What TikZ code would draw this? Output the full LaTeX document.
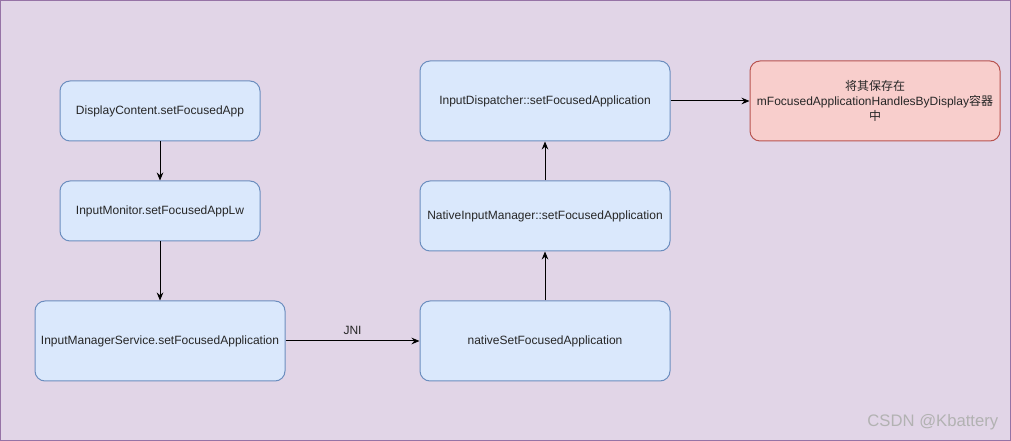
\documentclass[tikz,border=0pt]{standalone}
\usepackage{fontspec}
\setmainfont{Liberation Sans}
\newfontfamily\cjk{Noto Sans CJK SC}
\usetikzlibrary{arrows.meta}
\definecolor{bgfill}{HTML}{E1D5E7}
\definecolor{bgline}{HTML}{9673A6}
\definecolor{bluefill}{HTML}{DAE8FC}
\definecolor{blueline}{HTML}{6C8EBF}
\definecolor{redfill}{HTML}{F8CECC}
\definecolor{redline}{HTML}{B85450}
\begin{document}
\begin{tikzpicture}[x=0.75pt,y=-0.75pt,
  box/.style={draw=blueline,fill=bluefill,rounded corners=7.5pt,line width=0.75pt,
    font=\fontsize{9}{11}\selectfont,text=black!85,align=center,inner sep=0pt},
  redbox/.style={box,draw=redline,fill=redfill},
  conn/.style={-{Stealth[length=6pt,width=5pt,inset=2pt]},line width=0.75pt}]
\path[use as bounding box,fill=bgfill,draw=bgline,line width=0.75pt] (0.5,0.5) rectangle (1010.5,440.5);
\node[box,minimum width=150pt,minimum height=45pt] (dc) at (160,111) {DisplayContent.setFocusedApp};
\node[box,minimum width=150pt,minimum height=45pt] (im) at (160,211) {InputMonitor.setFocusedAppLw};
\node[box,minimum width=187.5pt,minimum height=60pt] (ims) at (160,341) {InputManagerService.setFocusedApplication};
\node[box,minimum width=187.5pt,minimum height=60pt] (nsf) at (545,341) {nativeSetFocusedApplication};
\node[box,minimum width=187.5pt,minimum height=52.5pt] (nim) at (545,216) {NativeInputManager::setFocusedApplication};
\node[box,minimum width=187.5pt,minimum height=60pt] (idp) at (545,101) {InputDispatcher::setFocusedApplication};
\node[redbox,minimum width=187.5pt,minimum height=60pt] (save) at (875,101) {{\cjk 将其保存在}\\mFocusedApplicationHandlesByDisplay{\cjk 容器}\\{\cjk 中}};
\draw[conn] (dc) -- (im);
\draw[conn] (im) -- (ims);
\draw[conn] (ims) -- node[above=1pt,font=\fontsize{9}{11}\selectfont,text=black!85]{JNI} (nsf);
\draw[conn] (nsf) -- (nim);
\draw[conn] (nim) -- (idp);
\draw[conn] (idp) -- (save);
\node[anchor=east,font=\fontsize{12.5}{14}\selectfont,text=black!30] (wm) at (1003,422) {CSDN @Kbattery};
\end{tikzpicture}
\end{document}
